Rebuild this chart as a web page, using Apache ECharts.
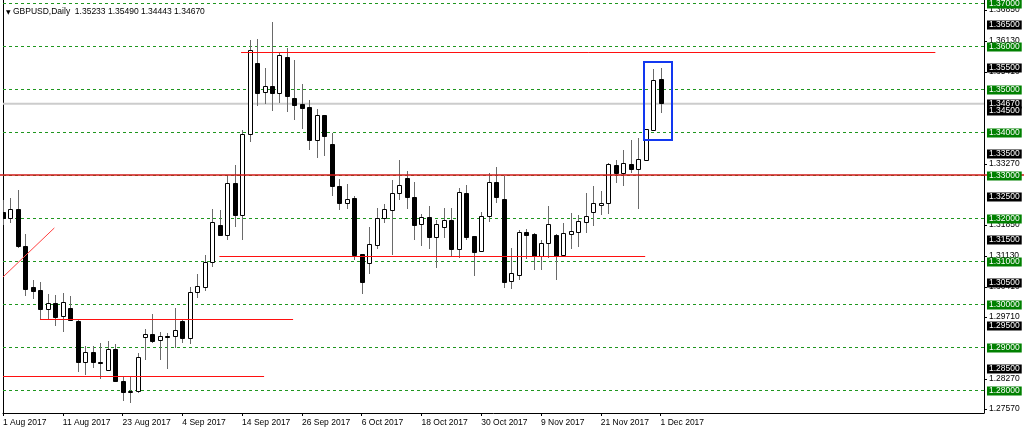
<!DOCTYPE html>
<html><head><meta charset="utf-8">
<script src="https://cdn.jsdelivr.net/npm/echarts@6/dist/echarts.min.js"></script>
<style>html,body{margin:0;padding:0;background:#fff}#c{width:1024px;height:433px}</style>
</head><body><div id="c"></div>
<script>
const symbolName = 'GBPUSD,Daily';
const tickLabels = ['1 Aug 2017','11 Aug 2017','23 Aug 2017','4 Sep 2017','14 Sep 2017','26 Sep 2017','6 Oct 2017','18 Oct 2017','30 Oct 2017','9 Nov 2017','21 Nov 2017','1 Dec 2017'];
const open = [1.3213,1.3200,1.3221,1.3135,1.3039,1.3032,1.2988,1.3002,1.2973,1.2990,
1.2960,1.2866,1.2889,1.2865,1.2847,1.2895,1.2821,1.2796,1.2797,1.2923,
1.2930,1.2917,1.2926,1.2925,1.2960,1.2920,1.3028,1.3039,1.3098,1.3183,
1.3160,1.3281,1.3207,1.3396,1.3561,1.3493,1.3507,1.3490,1.3574,1.3480,
1.3465,1.3457,1.3382,1.3439,1.3373,1.3275,1.3235,1.3246,1.3116,1.3095,
1.3137,1.3200,1.3219,1.3259,1.3294,1.3249,1.3186,1.3203,1.3155,1.3180,
1.3195,1.3129,1.3259,1.3157,1.3124,1.3205,1.3283,1.3245,1.3054,1.3067,
1.3168,1.3163,1.3112,1.3142,1.3160,1.3113,1.3162,1.3168,1.3190,1.3214,
1.3231,1.3235,1.3323,1.3304,1.3325,1.3315,1.3335,1.3404,1.35233];
const high = [1.3244,1.3248,1.3267,1.3163,1.3058,1.3052,1.3025,1.3023,1.3027,1.3019,
1.2967,1.2903,1.2903,1.2911,1.2915,1.2907,1.2833,1.2833,1.2888,1.2942,
1.2977,1.2936,1.2934,1.2992,1.2965,1.3041,1.3070,1.3116,1.3222,1.3219,
1.3300,1.3325,1.3405,1.3616,1.3617,1.3550,1.3656,1.3586,1.3596,1.3569,
1.3513,1.3475,1.3455,1.3441,1.3400,1.3292,1.3281,1.3253,1.3118,1.3180,
1.3225,1.3234,1.3290,1.3337,1.3310,1.3286,1.3211,1.3228,1.3197,1.3225,
1.3225,1.3271,1.3277,1.3159,1.3214,1.3306,1.3320,1.3298,1.3132,1.3174,
1.3176,1.3166,1.3149,1.3228,1.3163,1.3190,1.3213,1.3207,1.3259,1.3276,
1.3265,1.3330,1.3335,1.3360,1.3382,1.3387,1.3406,1.3548,1.35490];
const low = [1.3186,1.3190,1.3132,1.3019,1.3012,1.2965,1.2965,1.2949,1.2936,1.2961,
1.2843,1.2837,1.2853,1.2826,1.2845,1.2819,1.2775,1.2771,1.2795,1.2872,
1.2911,1.2872,1.2849,1.2899,1.2911,1.2907,1.3015,1.3031,1.3087,1.3159,
1.3151,1.3180,1.3149,1.3377,1.3462,1.3466,1.3449,1.3468,1.3447,1.3430,
1.3408,1.3360,1.3341,1.3346,1.3253,1.3219,1.3222,1.3104,1.3025,1.3072,
1.3128,1.3190,1.3116,1.3244,1.3221,1.3151,1.3135,1.3128,1.3085,1.3155,
1.3112,1.3108,1.3151,1.3066,1.3121,1.3193,1.3236,1.3039,1.3035,1.3058,
1.3106,1.3081,1.3081,1.3108,1.3058,1.3112,1.3129,1.3134,1.3166,1.3182,
1.3207,1.3211,1.3283,1.3276,1.3306,1.3221,1.3333,1.3403,1.34443];
const close = [1.3199,1.3221,1.3135,1.3035,1.3031,1.2988,1.3002,1.2970,1.3004,1.2963,
1.2866,1.2888,1.2864,1.2863,1.2895,1.2822,1.2796,1.2798,1.2876,1.2930,
1.2915,1.2926,1.2925,1.2940,1.2922,1.3028,1.3041,1.3098,1.3190,1.3160,
1.3281,1.3207,1.3396,1.3591,1.3490,1.3506,1.3490,1.3578,1.3484,1.3462,
1.3455,1.3382,1.3439,1.3391,1.3275,1.3235,1.3244,1.3114,1.3052,1.3139,
1.3201,1.3221,1.3259,1.3276,1.3248,1.3184,1.3203,1.3156,1.3187,1.3195,
1.3128,1.3261,1.3156,1.3122,1.3205,1.3283,1.3248,1.3052,1.3071,1.3168,
1.3161,1.3112,1.3143,1.3186,1.3112,1.3164,1.3169,1.3192,1.3204,1.3234,
1.3236,1.3325,1.3304,1.3329,1.3315,1.3337,1.3406,1.3521,1.34670];

// price-scale labels
const gridLevels = [1.28,1.29,1.30,1.31,1.32,1.33,1.34,1.35,1.36,1.37];
const halfLevels = [1.285,1.295,1.305,1.315,1.325,1.335,1.345,1.355,1.365];
const scaleLevels = [1.3685,1.3613,1.3541,1.3327,1.3185,1.3113,1.3041,1.2971,1.2827,1.2757];

// drawn objects (bar index, price)
const hLinePrice = [1.3587, 1.3112, 1.2964, 1.2833];
const hLineFrom  = [31.86, 28.96, 4.95, 0];
const hLineTo    = [124.77, 85.94, 38.82, 34.94];
const fullRedLine = 1.3301;
const trendStart = [0, 1.3064];
const trendEnd = [6.87, 1.3178];
const boxStart = [85.8, 1.35645];
const boxEnd = [89.56, 1.33832];

const last = open.length - 1;
const currentPrice = close[last];
const FONT = 'Liberation Sans';
const fmt = v => Number(v).toFixed(5);
const crisp = y => Math.round(y - 0.5) + 0.5;

const Y_MAX = 1.3708139535, Y_MIN = 1.2747674419;

const candleData = open.map((o, i) => [i, o, close[i], low[i], high[i]]);

function renderCandle(params, api) {
  const i = api.value(0), o = api.value(1), c = api.value(2), l = api.value(3), h = api.value(4);
  const pH = api.coord([i, h]), pL = api.coord([i, l]);
  const pO = api.coord([i, o]), pC = api.coord([i, c]);
  const xc = Math.round(pH[0]) + 0.5;
  const top = crisp(Math.min(pO[1], pC[1]));
  const bot = crisp(Math.max(pO[1], pC[1]));
  const bull = c >= o;
  return {
    type: 'group',
    children: [
      { type: 'line', shape: { x1: xc, y1: Math.round(pH[1]), x2: xc, y2: Math.round(pL[1]) }, style: { stroke: '#6a6a6a', lineWidth: 1 } },
      { type: 'rect', shape: { x: xc - 2, y: top, width: 4, height: Math.max(bot - top, 1) },
        style: { fill: bull ? '#ffffff' : '#000000', stroke: '#000000', lineWidth: 1 } }
    ]
  };
}

// full-width background lines: kind 0 = current price, 1 = grid level
const bgLineData = [[0, currentPrice, 0]].concat(gridLevels.map(v => [0, v, 1]));
function renderBgLine(params, api) {
  const cs = params.coordSys;
  const v = api.value(1), kind = api.value(2);
  const y = api.coord([0, v])[1];
  if (kind === 0) {
    return { type: 'line', shape: { x1: cs.x, y1: y, x2: cs.x + cs.width, y2: y },
      style: { stroke: '#cccccc', lineWidth: 2 } };
  }
  return { type: 'line', shape: { x1: cs.x, y1: crisp(y), x2: cs.x + cs.width, y2: crisp(y) },
    style: { stroke: '#1f961f', lineWidth: 1, lineDash: [3, 3] } };
}

// price labels: kind 0 plain, 1 current price, 2 half level, 3 grid level
const labelData = scaleLevels.map(v => [0, v, 0])
  .concat([[0, currentPrice, 1]])
  .concat(halfLevels.map(v => [0, v, 2]))
  .concat(gridLevels.map(v => [0, v, 3]));
function renderLabel(params, api) {
  const cs = params.coordSys;
  const v = api.value(1), kind = api.value(2);
  const y = api.coord([0, v])[1];
  const bg = [null, '#000000', '#000000', '#008000'][kind];
  return {
    type: 'text', z2: [0, 1, 4, 6][kind],
    x: cs.x + cs.width + 3, y: Math.round(y),
    style: { text: fmt(v), fill: kind === 0 ? '#000' : '#fff', backgroundColor: bg,
      padding: [0, 2, 0, 2], lineHeight: 9, fontSize: 8.5, fontFamily: FONT,
      verticalAlign: 'middle', align: 'left' }
  };
}

// drawn horizontal segments
const segData = hLinePrice.map((p, k) => [hLineFrom[k], hLineTo[k], p]);
function renderSeg(params, api) {
  const p1 = api.coord([api.value(0), api.value(2)]);
  const p2 = api.coord([api.value(1), api.value(2)]);
  return { type: 'line', shape: { x1: p1[0], y1: crisp(p1[1]), x2: p2[0], y2: crisp(p2[1]) },
    style: { stroke: '#ff1010', lineWidth: 1 } };
}

const chart = echarts.init(document.getElementById('c'), null, { renderer: 'canvas' });
chart.setOption({
  animation: false,
  backgroundColor: '#ffffff',
  title: {
    text: '{t|▼} ' + symbolName + '  ' + [open[last], high[last], low[last], close[last]].map(fmt).join(' '),
    left: 1, top: 2,
    textStyle: { fontSize: 8.5, fontWeight: 'normal', fontFamily: FONT, color: '#000', lineHeight: 10,
      rich: { t: { fontSize: 6, fontFamily: 'DejaVu Sans', color: '#000' } } }
  },
  grid: { left: 3, right: 40, top: 0, bottom: 20, containLabel: false, outerBoundsMode: 'none' },
  xAxis: {
    type: 'value', min: 0, max: 131.28,
    axisLine: { show: true, onZero: false, lineStyle: { color: '#000', width: 1 } },
    axisTick: { show: true, length: 3, lineStyle: { color: '#000' }, customValues: tickLabels.map((_, k) => k * 8) },
    axisLabel: { show: true, align: 'left', margin: 5, fontSize: 8.5, fontFamily: FONT, color: '#000',
      customValues: tickLabels.map((_, k) => k * 8),
      formatter: v => tickLabels[Math.round(v / 8)] || '' },
    splitLine: { show: false }
  },
  yAxis: [
    { type: 'value', position: 'right', min: Y_MIN, max: Y_MAX,
      axisLine: { show: true, onZero: false, lineStyle: { color: '#000', width: 1 } },
      axisTick: { show: true, length: 3, lineStyle: { color: '#000' }, customValues: scaleLevels },
      axisLabel: { show: false }, splitLine: { show: false } },
    { type: 'value', position: 'left', min: Y_MIN, max: Y_MAX,
      axisLine: { show: true, onZero: false, lineStyle: { color: '#000', width: 1 } },
      axisTick: { show: false }, axisLabel: { show: false }, splitLine: { show: false } }
  ],
  series: [
    { type: 'custom', z: 1, clip: true, silent: true, data: bgLineData,
      encode: { x: 0, y: 1 }, renderItem: renderBgLine },
    { type: 'custom', z: 5, clip: true, silent: true, data: candleData,
      encode: { x: 0, y: [1, 2, 3, 4] }, renderItem: renderCandle },
    { type: 'custom', z: 6, clip: true, silent: true, data: segData,
      encode: { x: [0, 1], y: 2 }, renderItem: renderSeg },
    { type: 'custom', z: 6, clip: false, silent: true, data: [[0, fullRedLine]],
      encode: { x: 0, y: 1 },
      renderItem: (params, api) => {
        const cs = params.coordSys; const y = api.coord([0, api.value(1)])[1];
        return { type: 'line', shape: { x1: 0, y1: y, x2: cs.x + cs.width + 40, y2: y },
          style: { stroke: '#d01818', lineWidth: 1.5 } };
      } },
    { type: 'custom', z: 6, clip: true, silent: true,
      data: [[trendStart[0], trendStart[1], trendEnd[0], trendEnd[1]]],
      encode: { x: [0, 2], y: [1, 3] },
      renderItem: (params, api) => {
        const a = api.coord([api.value(0), api.value(1)]), b = api.coord([api.value(2), api.value(3)]);
        return { type: 'line', shape: { x1: a[0], y1: a[1], x2: b[0], y2: b[1] },
          style: { stroke: '#ff4040', lineWidth: 1 } };
      } },
    { type: 'custom', z: 6, clip: true, silent: true,
      data: [[boxStart[0], boxStart[1], boxEnd[0], boxEnd[1]]],
      encode: { x: [0, 2], y: [1, 3] },
      renderItem: (params, api) => {
        const a = api.coord([api.value(0), api.value(1)]), b = api.coord([api.value(2), api.value(3)]);
        return { type: 'rect', shape: { x: Math.round(a[0]), y: Math.round(a[1]), width: Math.round(b[0] - a[0]), height: Math.round(b[1] - a[1]) },
          style: { fill: 'none', stroke: '#1238f0', lineWidth: 2 } };
      } },
    { type: 'custom', z: 7, clip: false, silent: true, data: labelData,
      encode: { x: 0, y: 1 }, renderItem: renderLabel }
  ]
});
</script>
</body></html>
